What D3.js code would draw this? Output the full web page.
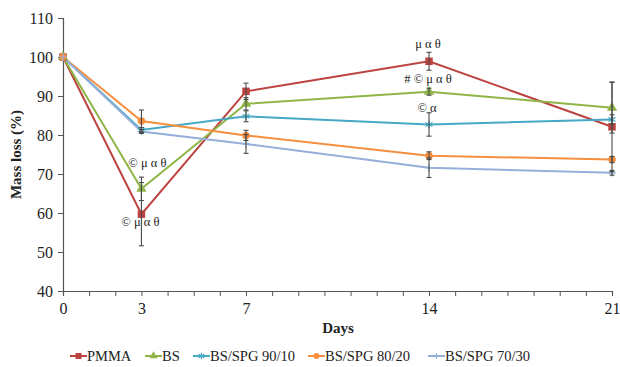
<!DOCTYPE html>
<html>
<head>
<meta charset="utf-8">
<script src="https://cdn.jsdelivr.net/npm/d3@7"></script>
<style>
  body { margin: 0; background: #fff; }
  text { font-family: "Liberation Serif", "Times New Roman", serif; fill: #222; }
</style>
</head>
<body>
<div id="chart"></div>
<script>
// data
const days = [0, 3, 7, 14, 21];
const dayTicks = [0, 3, 7, 14, 21];
const yTicks = [40, 50, 60, 70, 80, 90, 100, 110];

const seriesNames = ["PMMA", "BS", "BS/SPG 90/10", "BS/SPG 80/20", "BS/SPG 70/30"];
const seriesColors = ["#bc4340", "#8fb546", "#45a8c4", "#f58f3f", "#93afda"];
const seriesShapes = ["square", "triangle", "cross", "circle", "dash"];

const pmma = [100, 59.7, 91.2, 98.9, 82.1];
const bs = [100, 66.2, 88.0, 91.1, 87.0];
const spg9010 = [100, 81.3, 84.8, 82.7, 84.0];
const spg8020 = [100, 83.6, 79.9, 74.7, 73.7];
const spg7030 = [100, 80.9, 77.7, 71.6, 70.3];

const pmmaErr = [0, 8.1, 2.1, 2.3, 11.5];
const bsErr = [0, 3.0, 1.6, 0.9, 6.5];
const spg9010Err = [0, 0.6, 1.4, 3.0, 1.2];
const spg8020Err = [0, 2.8, 1.3, 1.0, 0.8];
const spg7030Err = [0, 0.5, 2.4, 2.5, 0.6];

const allValues = [pmma, bs, spg9010, spg8020, spg7030];
const allErrors = [pmmaErr, bsErr, spg9010Err, spg8020Err, spg7030Err];

const notes = [
    { day: 3, value: 66.2, text: "© μ α θ", dx: 6, dy: -22 },
    { day: 3, value: 59.7, text: "© μ α θ", dx: -1, dy: 12 },
    { day: 14, value: 98.9, text: "μ α θ", dx: -1, dy: -13 },
    { day: 14, value: 91.1, text: "# © μ α θ", dx: -1, dy: -9 },
    { day: 14, value: 82.7, text: "© α", dx: -2, dy: -12 }
];

const width = 620;
const height = 367;
const margin = { top: 18, right: 8, bottom: 76, left: 63 };

const svg = d3.select('#chart')
    .append('svg')
        .attr('width', width)
        .attr('height', height);

const x = d3.scaleLinear()
    .domain([0, 21])
    .range([margin.left, width - margin.right]);

const y = d3.scaleLinear()
    .domain([40, 110])
    .range([height - margin.bottom, margin.top]);

// y axis
const yAxis = svg.append('g')
    .attr('transform', `translate(${margin.left},0)`)
    .call(d3.axisLeft(y).tickValues(yTicks).tickSize(5).tickPadding(5));

// x axis, tick every day, labels only at sampling days
const xAxis = svg.append('g')
    .attr('transform', `translate(0,${y(40)})`)
    .call(d3.axisBottom(x)
        .tickValues(d3.range(0, 22))
        .tickSize(5)
        .tickPadding(7)
        .tickFormat(d => dayTicks.includes(d) ? d : ''));

[yAxis, xAxis].forEach(ax => {
    ax.select('.domain').attr('stroke', '#555').attr('stroke-width', 1.2);
    ax.selectAll('.tick line').attr('stroke', '#555');
    ax.selectAll('text')
        .attr('font-size', 16)
        .attr('font-family', '"Liberation Serif", serif')
        .attr('fill', '#222');
});

// axis titles
svg.append('text')
    .attr('transform', `translate(21,${(y(40) + y(110)) / 2}) rotate(-90)`)
    .attr('text-anchor', 'middle')
    .attr('font-size', 15)
    .attr('font-weight', 'bold')
    .text('Mass loss (%)');

svg.append('text')
    .attr('x', 338)
    .attr('y', 333)
    .attr('text-anchor', 'middle')
    .attr('font-size', 15)
    .attr('font-weight', 'bold')
    .text('Days');

const line = d3.line()
    .x((d, i) => x(days[i]))
    .y(d => y(d));

function drawMarker(g, shape, color, size) {
    if (shape === 'square') {
        g.append('rect')
            .attr('x', -size / 2).attr('y', -size / 2)
            .attr('width', size).attr('height', size)
            .attr('fill', color);
    } else if (shape === 'triangle') {
        g.append('path')
            .attr('d', d3.symbol(d3.symbolTriangle, size * size * 0.8)())
            .attr('fill', color);
    } else if (shape === 'cross') {
        g.append('path')
            .attr('d', d3.symbol(d3.symbolAsterisk, size * size * 0.8)())
            .attr('stroke', color)
            .attr('stroke-width', 1.2)
            .attr('fill', 'none');
    } else if (shape === 'circle') {
        g.append('circle')
            .attr('r', size / 2)
            .attr('fill', color);
    } else {
        g.append('path')
            .attr('d', `M${-size / 2},0H${size / 2}M0,${-size / 2}V${size / 2}`)
            .attr('stroke', color)
            .attr('stroke-width', 1.2);
    }
}

// lines
allValues.forEach((vals, s) => {
    svg.append('path')
        .datum(vals)
        .attr('d', line)
        .attr('fill', 'none')
        .attr('stroke', seriesColors[s])
        .attr('stroke-width', 2);
});

// markers
allValues.forEach((vals, s) => {
    svg.selectAll(null)
        .data(vals)
        .join('g')
            .attr('transform', (d, i) => `translate(${x(days[i])},${y(d)})`)
            .each(function () { drawMarker(d3.select(this), seriesShapes[s], seriesColors[s], 7.5); });
});

// error bars
allValues.forEach((vals, s) => {
    const errs = allErrors[s];
    const bars = svg.selectAll(null)
        .data(vals.map((v, i) => ({ v: v, e: errs[i], day: days[i] })).filter(d => d.e > 0))
        .join('g')
            .attr('stroke', '#4a4a4a')
            .attr('stroke-width', 1.1);
    bars.append('line')
        .attr('x1', d => x(d.day)).attr('x2', d => x(d.day))
        .attr('y1', d => y(d.v - d.e)).attr('y2', d => y(d.v + d.e));
    bars.append('line')
        .attr('x1', d => x(d.day) - 2.5).attr('x2', d => x(d.day) + 2.5)
        .attr('y1', d => y(d.v + d.e)).attr('y2', d => y(d.v + d.e));
    bars.append('line')
        .attr('x1', d => x(d.day) - 2.5).attr('x2', d => x(d.day) + 2.5)
        .attr('y1', d => y(d.v - d.e)).attr('y2', d => y(d.v - d.e));
});

// significance notes
svg.selectAll('.note')
    .data(notes)
    .join('text')
        .attr('class', 'note')
        .attr('x', d => x(d.day) + d.dx)
        .attr('y', d => y(d.value) + d.dy)
        .attr('text-anchor', 'middle')
        .attr('font-size', 12.5)
        .attr('fill', '#333')
        .text(d => d.text);

// legend
const legendX = [70, 145, 193, 308, 428];
const legend = svg.selectAll('.legend')
    .data(seriesNames)
    .join('g')
        .attr('class', 'legend')
        .attr('transform', (d, i) => `translate(${legendX[i]},356)`);

legend.append('line')
    .attr('x1', 0).attr('x2', 17)
    .attr('stroke', (d, i) => seriesColors[i])
    .attr('stroke-width', 2);

legend.each(function (d, i) {
    const g = d3.select(this).append('g').attr('transform', 'translate(8.5,0)');
    drawMarker(g, seriesShapes[i], seriesColors[i], 6);
});

legend.append('text')
    .attr('x', 17)
    .attr('y', 5)
    .attr('font-size', 14.5)
    .text(d => d);
</script>
</body>
</html>
